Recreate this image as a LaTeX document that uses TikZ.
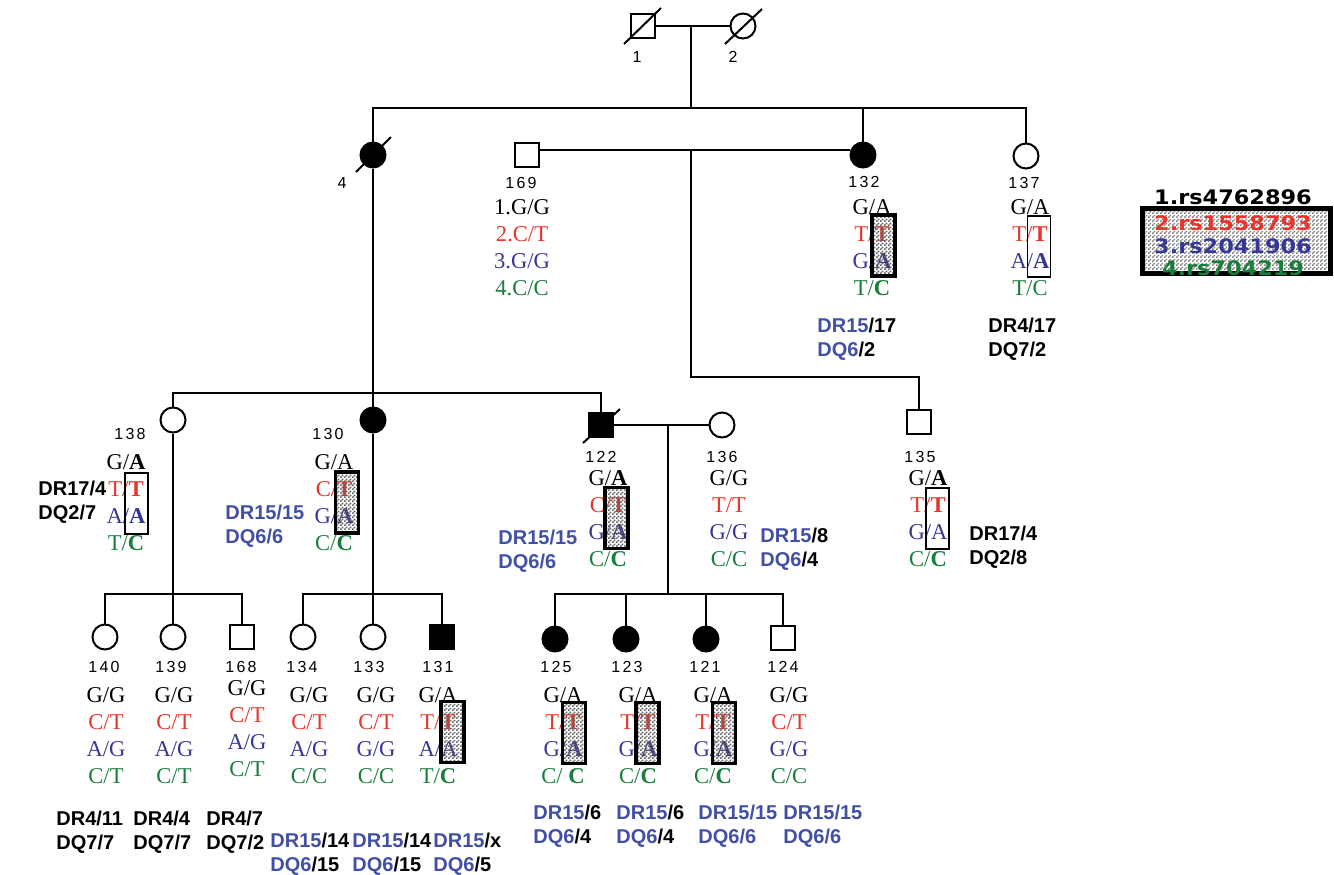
\documentclass[tikz,border=0pt]{standalone}
\usepackage{fontspec}
\setmainfont{Liberation Serif}
\newfontfamily\drfont{Liberation Sans}
\newfontfamily\numfont{Liberation Sans}[LetterSpace=14]
\newfontfamily\legfont{DejaVu Sans}[FakeStretch=1.12]
\usetikzlibrary{patterns,calc}
\definecolor{snpred}{RGB}{232,52,42}
\definecolor{snpblue}{RGB}{55,55,150}
\definecolor{snpgreen}{RGB}{25,125,60}
\definecolor{dr}{RGB}{65,80,165}
\pgfdeclarepatternformonly{finecheck}{\pgfpointorigin}{\pgfpoint{2pt}{2pt}}{\pgfpoint{2pt}{2pt}}{%
  \pgfpathrectangle{\pgfpointorigin}{\pgfpoint{1pt}{1pt}}%
  \pgfpathrectangle{\pgfpoint{1pt}{1pt}}{\pgfpoint{1pt}{1pt}}%
  \pgfusepath{fill}}
\newcommand\B[1]{\textcolor{dr}{#1}}
\newcommand\geno[7]{%
  \node[gt,text=black]     (#1a) at (#2,#3) {#4};
  \node[gt,text=snpred]    (#1b) at (#2,#3+27) {#5};
  \node[gt,text=snpblue]   (#1c) at (#2,#3+54) {#6};
  \node[gt,text=snpgreen]  (#1d) at (#2,#3+81) {#7};}
\newcommand\hla[5]{%
  \node[hla] (#1a) at (#2,#3) {#4};
  \node[hla] (#1b) at (#2,#3+24) {#5};}
\begin{document}
\begin{tikzpicture}[x=0.5pt,y=-0.5pt,
  line/.style={line width=1pt},
  male/.style={draw,line width=1pt,rectangle,minimum size=11.8pt,inner sep=0pt},
  female/.style={draw,line width=1pt,circle,minimum size=12.5pt,inner sep=0pt},
  aff/.style={fill=black},
  slash/.style={line width=1pt},
  idn/.style={font=\numfont\fontsize{8}{9}\selectfont,inner sep=0pt,text height=5.7pt,text depth=0pt},
  gt/.style={font=\fontsize{11.3}{13}\selectfont,inner sep=0pt,text height=7.4pt,text depth=0pt},
  hla/.style={font=\drfont\bfseries\fontsize{10}{12}\selectfont,inner sep=0pt,anchor=west,text height=7.2pt,text depth=0pt},
  carrier/.style={draw,line width=0.75pt,minimum width=11.5pt,minimum height=30.5pt,inner sep=0pt},
  risk/.style={carrier,line width=1.6pt,pattern=finecheck,pattern color=black!60},
  leg/.style={font=\legfont\bfseries\fontsize{10}{12}\selectfont,inner sep=0pt,text height=7.3pt,text depth=0pt},
]
\useasboundingbox (0,0) rectangle (1334,874);

% ---------- persons ----------
\node[male] (p1) at (643,26) {};
\node[female] (p2) at (743,26) {};
\node[female,aff] (p4) at (373,155) {};
\node[male] (p169) at (527,155) {};
\node[female,aff] (p132) at (863,155) {};
\node[female] (p137) at (1026,156) {};
\node[female] (p138) at (173,420) {};
\node[female,aff] (p130) at (373,420) {};
\node[male,aff] (p122) at (601,425) {};
\node[female] (p136) at (722,425) {};
\node[male] (p135) at (919,422) {};
\node[female] (p140) at (105,637) {};
\node[female] (p139) at (173,637) {};
\node[male] (p168) at (242,637) {};
\node[female] (p134) at (303,637) {};
\node[female] (p133) at (373,637) {};
\node[male,aff] (p131) at (442,637) {};
\node[female,aff] (p125) at (555,639) {};
\node[female,aff] (p123) at (626,639) {};
\node[female,aff] (p121) at (706,639) {};
\node[male] (p124) at (783,638) {};

% deceased slashes
\draw[slash] ([shift={(-19,18)}]p1.center) -- ([shift={(18,-18)}]p1.center);
\draw[slash] ([shift={(-18,18)}]p2.center) -- ([shift={(19,-17)}]p2.center);
\draw[slash] ([shift={(-17,17)}]p4.center) -- ([shift={(18,-18)}]p4.center);
\draw[slash] ([shift={(-18,18)}]p122.center) -- ([shift={(19,-16)}]p122.center);

% ---------- connectors ----------
\coordinate (s2) at (691,108);
\coordinate (c135) at (691,377);
\coordinate (s3) at (373,393);
\coordinate (s4) at (668,594);
\coordinate (m169) at (691,150);
\draw[line] (p1.east) -- (p2.west);
\draw[line] (s2 |- p1.east) -- (s2);
\draw[line] (p4.north) -- (p4.north |- s2) -- (p137.north |- s2) -- (p137.north);
\draw[line] (p132.north) -- (p132.north |- s2);
\draw[line] (p169.east |- m169) -- (p132.west |- m169);
\draw[line] (m169) -- (c135) -- (p135.north |- c135) -- (p135.north);
\draw[line] (p4.south) -- (p130.north);
\draw[line] (p138.north) -- (p138.north |- s3) -- (p122.north |- s3) -- (p122.north);
\draw[line] (p122.east) -- (p136.west);
\draw[line] (s4 |- p136.west) -- (s4);
\draw[line] (p125.north) -- (p125.north |- s4) -- (p124.north |- s4) -- (p124.north);
\draw[line] (p123.north) -- (p123.north |- s4);
\draw[line] (p121.north) -- (p121.north |- s4);
\draw[line] (p138.south) -- (p139.north);
\draw[line] (p140.north) -- (p140.north |- s4) -- (p168.north |- s4) -- (p168.north);
\draw[line] (p130.south) -- (p133.north);
\draw[line] (p134.north) -- (p134.north |- s4) -- (p131.north |- s4) -- (p131.north);

% ---------- id labels ----------
\node[idn] (l1) at (637,57) {1};
\node[idn] (l2) at (733,57) {2};
\node[idn] (l4) at (342,183) {4};
\node[idn] (l169) at (521,183) {169};
\node[idn] (l132) at (864,182) {132};
\node[idn] (l137) at (1024,183) {137};
\node[idn] (l138) at (130,434) {138};
\node[idn] (l130) at (328,434) {130};
\node[idn] (l122) at (601,457) {122};
\node[idn] (l136) at (722,457) {136};
\node[idn] (l135) at (920,457) {135};
\node[idn] (l140) at (104,667) {140};
\node[idn] (l139) at (171,667) {139};
\node[idn] (l168) at (241,667) {168};
\node[idn] (l134) at (302,667) {134};
\node[idn] (l133) at (369,667) {133};
\node[idn] (l131) at (438,667) {131};
\node[idn] (l125) at (556,667) {125};
\node[idn] (l123) at (627,667) {123};
\node[idn] (l121) at (705,667) {121};
\node[idn] (l124) at (783,667) {124};

% ---------- genotypes ----------
\geno{g169}{522}{207}{1.G/G}{2.C/T}{3.G/G}{4.C/C}
\geno{g132}{872}{207}{G/A}{T/\textbf{T}}{G/\textbf{A}}{T/\textbf{C}}
\geno{g137}{1030}{207}{G/A}{T/\textbf{T}}{A/\textbf{A}}{T/C}
\geno{g138}{126}{462}{G/\textbf{A}}{T/\textbf{T}}{A/\textbf{A}}{T/\textbf{C}}
\geno{g130}{334}{462}{G/A}{C/\textbf{T}}{G/\textbf{A}}{C/\textbf{C}}
\geno{g122}{608}{478}{G/\textbf{A}}{C/\textbf{T}}{G/\textbf{A}}{C/\textbf{C}}
\geno{g136}{729}{478}{G/G}{T/T}{G/G}{C/C}
\geno{g135}{928}{478}{G/\textbf{A}}{T/\textbf{T}}{G/A}{C/\textbf{C}}
\geno{g140}{106}{695}{G/G}{C/T}{A/G}{C/T}
\geno{g139}{174}{695}{G/G}{C/T}{A/G}{C/T}
\geno{g168}{247}{688}{G/G}{C/T}{A/G}{C/T}
\geno{g134}{309}{695}{G/G}{C/T}{A/G}{C/C}
\geno{g133}{376}{695}{G/G}{C/T}{G/G}{C/C}
\geno{g131}{438}{695}{G/A}{T/\textbf{T}}{A/A}{T/\textbf{C}}
\geno{g125}{563}{695}{G/A}{T/\textbf{T}}{G/\textbf{A}}{C/ \textbf{C}}
\geno{g123}{638}{695}{G/A}{T/\textbf{T}}{G/\textbf{A}}{C/\textbf{C}}
\geno{g121}{713}{695}{G/A}{T/\textbf{T}}{G/\textbf{A}}{C/\textbf{C}}
\geno{g124}{789}{695}{G/G}{C/T}{G/G}{C/C}

% ---------- haplotype boxes (drawn over the alleles) ----------
\node[risk] (b132) at (883.5,245.5) {};
\node[carrier] (b137) at (1039,246.5) {};
\node[carrier] (b138) at (136.5,503.5) {};
\node[risk] (b130) at (347,502.5) {};
\node[risk] (b122) at (616.5,518) {};
\node[carrier] (b135) at (937.5,518.5) {};
\node[risk] (b131) at (452.5,732) {};
\node[risk] (b125) at (574,733) {};
\node[risk] (b123) at (647.5,733) {};
\node[risk] (b121) at (724,733) {};

% ---------- HLA ----------
\hla{h132}{817}{325}{\B{DR15}/17}{\B{DQ6}/2}
\hla{h137}{988}{325}{DR4/17}{DQ7/2}
\hla{h138}{38}{488}{DR17/4}{DQ2/7}
\hla{h130}{225}{512}{\B{DR15/15}}{\B{DQ6/6}}
\hla{h122}{498}{537}{\B{DR15/15}}{\B{DQ6/6}}
\hla{h136}{760}{535}{\B{DR15}/8}{\B{DQ6}/4}
\hla{h135}{969}{533}{DR17/4}{DQ2/8}
\hla{h140}{56}{818}{DR4/11}{DQ7/7}
\hla{h139}{133}{818}{DR4/4}{DQ7/7}
\hla{h168}{206}{818}{DR4/7}{DQ7/2}
\hla{h134}{270}{840}{\B{DR15}/14}{\B{DQ6}/15}
\hla{h133}{352}{840}{\B{DR15}/14}{\B{DQ6}/15}
\hla{h131}{433}{840}{\B{DR15}/x}{\B{DQ6}/5}
\hla{h125}{533}{812}{\B{DR15}/6}{\B{DQ6}/4}
\hla{h123}{616}{812}{\B{DR15}/6}{\B{DQ6}/4}
\hla{h121}{698}{812}{\B{DR15/15}}{\B{DQ6/6}}
\hla{h124}{783}{812}{\B{DR15/15}}{\B{DQ6/6}}

% ---------- legend ----------
\node[draw,line width=2.5pt,pattern=finecheck,pattern color=black!50,minimum width=94pt,minimum height=32.5pt,inner sep=0pt] (legbox) at (1236,240.5) {};
\node[leg,text=black] (leg1) at (1233,197) {1.rs4762896};
\node[leg,text=snpred] (leg2) at (1233,223) {2.rs1558793};
\node[leg,text=snpblue] (leg3) at (1233,246) {3.rs2041906};
\node[leg,text=snpgreen] (leg4) at (1233,268) {4.rs704219};
\end{tikzpicture}
\end{document}
